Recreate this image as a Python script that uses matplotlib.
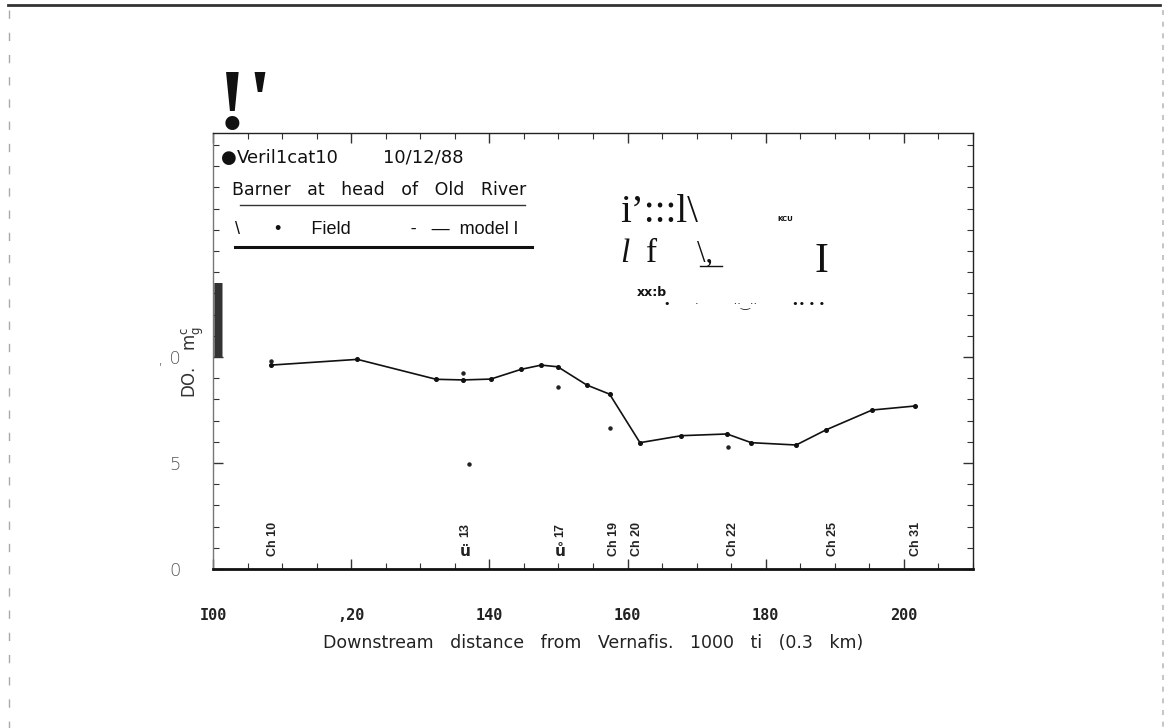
import matplotlib
matplotlib.use("Agg")
import matplotlib.pyplot as plt
from matplotlib.lines import Line2D
from matplotlib.ticker import MultipleLocator

# DO profile, model run vs field samples
model_km = [108.4, 120.9, 132.3, 136.2, 140.2, 144.6, 147.5, 149.9, 154.1,
            157.4, 161.8, 167.8, 174.4, 177.9, 184.4, 188.7, 195.4, 201.6]
model_do = [9.62, 9.89, 8.95, 8.92, 8.96, 9.42, 9.62, 9.54, 8.68,
            8.25, 5.96, 6.29, 6.37, 5.96, 5.85, 6.56, 7.50, 7.69]

field_km = [108.4, 136.2, 137.0, 149.9, 157.4, 174.5]
field_do = [9.82, 9.26, 4.94, 8.60, 6.67, 5.77]

# channel stations along the river
station_km = [108.7, 136.5, 150.3, 158.1, 161.4, 175.2, 189.7, 201.7]
station_lbl = ["Ch 10", "13", "17", "Ch 19", "Ch 20", "Ch 22", "Ch 25", "Ch 31"]

xtick_vals = [100, 120, 140, 160, 180, 200]
xtick_lbl = ["I00", ",20", "140", "160", "180", "200"]
ytick_vals = [0, 5, 10]
ytick_lbl = ["0", "5", ", 0"]

W, H = 1172, 728
fig = plt.figure(figsize=(W / 100, H / 100), dpi=100)


def fx(x):
    return x / W


def fy(y):
    return 1 - y / H


ax = fig.add_axes([fx(213), fy(569), fx(973) - fx(213), fy(133) - fy(569)])
ax.set_xlim(100, 210)
ax.set_ylim(0, 20.57)

ax.plot(model_km, model_do, color="#111", lw=1.2, marker="o", ms=2.6)
ax.plot(field_km, field_do, ls="none", marker="o", ms=2.2, color="#222")

for x, lbl in zip(station_km, station_lbl):
    if lbl.startswith("Ch"):
        ax.text(x, 0.6, lbl, rotation=90, ha="center", va="bottom",
                fontsize=9, fontweight="bold", color="#222",
                family="Liberation Sans")
    else:
        ax.text(x, 1.5, lbl, rotation=90, ha="center", va="bottom",
                fontsize=9, fontweight="bold", color="#222",
                family="Liberation Sans")
        ax.text(x, 0.45, "ü" if lbl == "13" else "ů", ha="center",
                va="bottom", fontsize=11, fontweight="bold", color="#222",
                family="DejaVu Sans")

# frame and ticks
for side in ["top", "right"]:
    ax.spines[side].set_linewidth(1.0)
    ax.spines[side].set_color("#222")
ax.spines["bottom"].set_linewidth(2.0)
ax.spines["bottom"].set_color("#111")
ax.spines["left"].set_linewidth(1.0)
ax.spines["left"].set_color("#777")

ax.xaxis.set_minor_locator(MultipleLocator(5))
ax.yaxis.set_minor_locator(MultipleLocator(1))
ax.set_xticks(xtick_vals)
ax.set_xticklabels(xtick_lbl, family="DejaVu Sans Mono", fontweight="bold",
                   fontsize=11, color="#222")
ax.set_yticks(ytick_vals)
ax.set_yticklabels(ytick_lbl, family="DejaVu Sans", fontweight="light",
                   fontsize=13, color="#555")
ax.tick_params(axis="both", which="both", direction="in",
               top=True, right=True, color="#333")
ax.tick_params(axis="both", which="major", length=7, width=1)
ax.tick_params(axis="both", which="minor", length=4, width=0.8)
ax.tick_params(axis="x", which="major", pad=28)
ax.tick_params(axis="y", which="major", pad=23)

ax.set_xlabel("Downstream   distance   from   Vernafis.   1000   ti   (0.3   km)",
              family="DejaVu Sans", fontsize=12.5, color="#222",
              labelpad=8)
ax.set_ylabel("DO.   m$^{\\mathregular{c}}_{\\mathregular{g}}$",
              family="DejaVu Sans", fontsize=12, color="#333")
ax.yaxis.set_label_coords(-0.009, 0.475)

# header block in the upper left
fig.text(fx(221), fy(158), "●", family="DejaVu Sans", fontsize=13,
         color="#111", va="center")
fig.text(fx(237), fy(158), "Veril1cat10", family="DejaVu Sans",
         fontsize=13, color="#111", va="center")
fig.text(fx(383), fy(158), "10/12/88", family="DejaVu Sans",
         fontsize=13, color="#111", va="center")
fig.text(fx(232), fy(190), "Barner   at   head   of   Old   River",
         family="DejaVu Sans", fontsize=12.5, color="#111", va="center")
fig.text(fx(235), fy(230),
         "\\       •      Field            -   —  model l",
         family=["Liberation Sans", "DejaVu Sans"], fontsize=13,
         color="#111", va="center")
fig.add_artist(Line2D([fx(240), fx(525)], [fy(205), fy(205)],
                      color="#333", lw=1.0))
fig.add_artist(Line2D([fx(235), fx(532)], [fy(247), fy(247)],
                      color="#111", lw=2.2))

# stray marks above the frame and inside it
fig.text(fx(218), fy(147.5), "!", family="Liberation Serif",
         fontweight="bold", fontsize=62, color="#111", va="bottom")
fig.text(fx(247), fy(147.5), "'", family="Liberation Serif",
         fontweight="bold", fontsize=62, color="#111", va="bottom")
fig.text(fx(218), fy(340), "|", family="DejaVu Sans", fontweight="bold",
         fontsize=53, color="#333", va="baseline", ha="center")

fig.text(fx(620), fy(222), "i’:::l\\", family="Liberation Serif",
         fontsize=28, color="#111", va="baseline")
fig.text(fx(777), fy(221), "KCU", family="DejaVu Sans", fontweight="bold",
         fontsize=5, color="#111", va="baseline")
fig.text(fx(620), fy(262), "l", family="Liberation Serif", style="italic",
         fontsize=24, color="#111", va="baseline")
fig.text(fx(646), fy(262), "f", family="Liberation Serif",
         fontsize=24, color="#111", va="baseline")
fig.text(fx(697), fy(262), "\\,", family="Liberation Serif",
         fontsize=22, color="#111", va="baseline")
fig.add_artist(Line2D([fx(700), fx(722)], [fy(266), fy(266)],
                      color="#111", lw=1.0))
fig.text(fx(814), fy(272), "I", family="Liberation Serif",
         fontsize=30, color="#111", va="baseline")
fig.text(fx(637), fy(296), "xx:b", family="DejaVu Sans", fontweight="bold",
         fontsize=9, color="#111", va="baseline")
fig.text(fx(664), fy(306), "•       ·          ··‿··          •• • •",
         family="DejaVu Sans", fontsize=8, color="#111", va="baseline")

# page edges
fig.add_artist(Line2D([fx(8), fx(1160)], [fy(5), fy(5)], color="#333", lw=2))
fig.add_artist(Line2D([fx(9), fx(9)], [fy(10), fy(728)], color="#aaa",
                      lw=1, ls=(0, (6, 10))))
fig.add_artist(Line2D([fx(1163), fx(1163)], [fy(10), fy(728)], color="#bbb",
                      lw=1.2, ls=(0, (3, 4))))

fig.savefig("out.png", dpi=100)
